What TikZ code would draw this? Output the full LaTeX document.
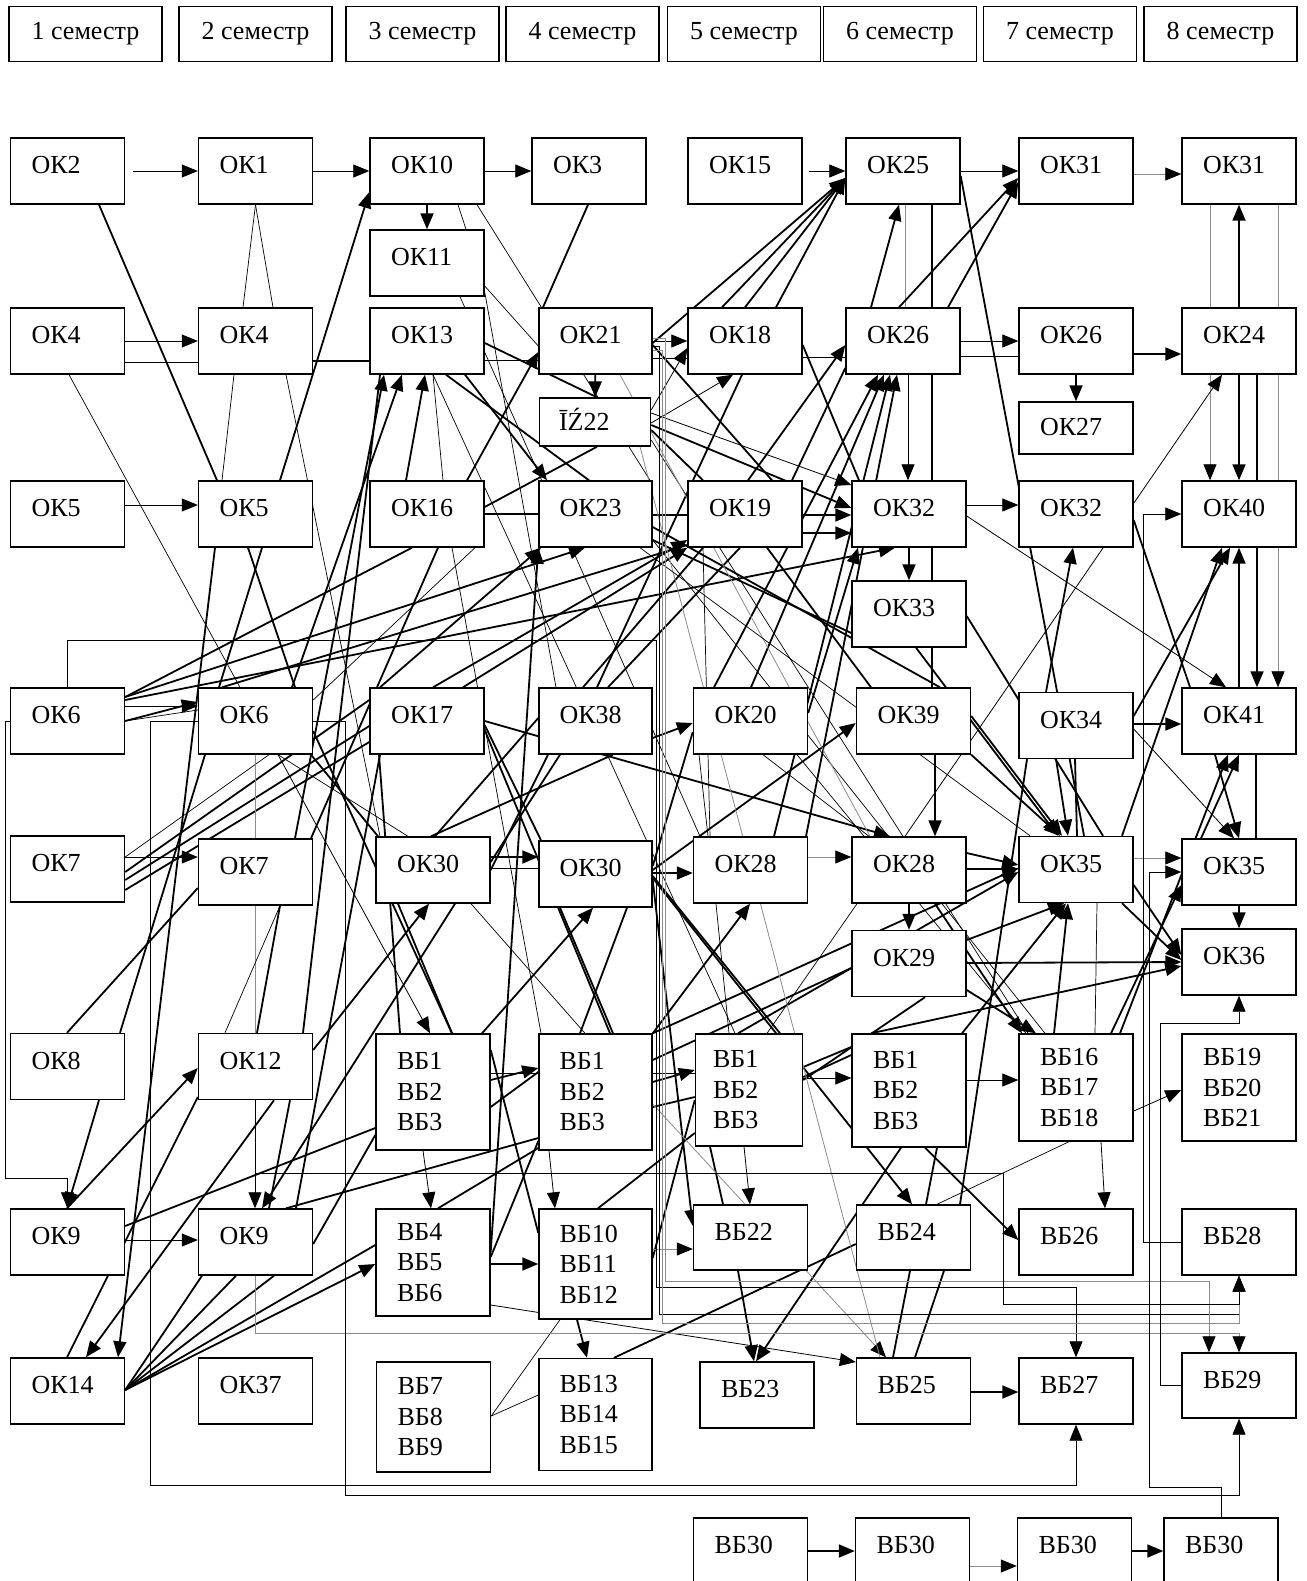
\documentclass[tikz,border=0pt]{standalone}
\usepackage{fontspec}
\setmainfont{Liberation Serif}
\usetikzlibrary{arrows.meta}
\pgfdeclarelayer{bg}
\pgfsetlayers{bg,main}

\tikzset{
  box/.style={draw, fill=white, line width=1.4pt, minimum width=114pt, minimum height=66pt,
    inner sep=0pt, text width=72pt, align=left, text height=17pt, text depth=12pt},
  bbox/.style={draw, fill=white, line width=1.4pt, minimum width=114pt,
    inner sep=0pt, text width=72pt, align=left},
  sem/.style={draw, fill=white, line width=1.4pt, minimum width=153pt, minimum height=55pt, inner sep=0pt},
  tA/.style={line width=1.8pt, -{Triangle[length=16pt,width=13pt]}},
  ta/.style={line width=0.8pt, -{Triangle[length=16pt,width=13pt]}},
  tL/.style={line width=1.8pt},
  tl/.style={line width=0.7pt},
  gl/.style={line width=0.8pt, draw=black!45},
  ga/.style={gl, -{Triangle[length=16pt,width=13pt,color=black]}},
}

\begin{document}
\begin{tikzpicture}[x=1pt, y=-1pt, font=\fontsize{26pt}{30.5pt}\selectfont]

\useasboundingbox (0,0) rectangle (1306,1581);

% semesters
\foreach \n/\x in {1/85.5, 2/255.5, 3/422.5, 4/582.5, 5/744, 6/900, 7/1060, 8/1220.5}
  \node[sem] (s\n) at (\x,34) {\n\ семестр};

% row 1
\node[box] (ok2)  at (67.5,171)  {ОК2};
\node[box] (ok1)  at (255.5,171) {ОК1};
\node[box] (ok10) at (427,171)   {ОК10};
\node[box] (ok3)  at (589,171)   {ОК3};
\node[box] (ok15) at (745,171)   {ОК15};
\node[box] (ok25) at (903,171)   {ОК25};
\node[box] (ok31a) at (1076,171) {ОК31};
\node[box] (ok31b) at (1239,171) {ОК31};
\node[box] (ok11) at (427,263)   {ОК11};

% row 2
\node[box] (ok4a) at (67.5,341)  {ОК4};
\node[box] (ok4b) at (255.5,341) {ОК4};
\node[box] (ok13) at (427,341)   {ОК13};
\node[box, minimum width=113pt] (ok21) at (595.5,341) {ОК21};
\node[box] (ok18) at (745,341)   {ОК18};
\node[box] (ok26a) at (903,341)  {ОК26};
\node[box] (ok26b) at (1076,341) {ОК26};
\node[box] (ok24) at (1239,341)  {ОК24};
\node[box, minimum width=111pt, minimum height=48pt, text depth=0pt] (iz22) at (595,422) {ĪŹ22};
\node[box, minimum height=52pt, text depth=2pt] (ok27) at (1076,428) {ОК27};

% row 3
\node[box] (ok5a) at (67.5,514)  {ОК5};
\node[box] (ok5b) at (255.5,514) {ОК5};
\node[box] (ok16) at (427,514)   {ОК16};
\node[box, minimum width=113pt] (ok23) at (595.5,514) {ОК23};
\node[box] (ok19) at (745,514)   {ОК19};
\node[box] (ok32a) at (909,514)  {ОК32};
\node[box] (ok32b) at (1076,514) {ОК32};
\node[box] (ok40) at (1239,514)  {ОК40};
\node[box] (ok33) at (909,614)   {ОК33};

% row 4
\node[box] (ok6a) at (67.5,721)  {ОК6};
\node[box] (ok6b) at (255.5,721) {ОК6};
\node[box] (ok17) at (427,721)   {ОК17};
\node[box, minimum width=113pt] (ok38) at (595.5,721) {ОК38};
\node[box] (ok20) at (750.5,721) {ОК20};
\node[box] (ok39) at (913.5,721) {ОК39};
\node[box] (ok34) at (1076,725.5) {ОК34};
\node[box] (ok41) at (1239,721)  {ОК41};

% row 5
\node[box] (ok7a) at (67.5,869)  {ОК7};
\node[box] (ok7b) at (255.5,872) {ОК7};
\node[box] (ok30a) at (433,870)  {ОК30};
\node[box, minimum width=113pt] (ok30b) at (595.5,874) {ОК30};
\node[box] (ok28a) at (750.5,870) {ОК28};
\node[box] (ok28b) at (909,870)  {ОК28};
\node[box] (ok35a) at (1076,869.5) {ОК35};
\node[box] (ok35b) at (1239,872) {ОК35};
\node[box] (ok29) at (909,963.5) {ОК29};
\node[box] (ok36) at (1239,962)  {ОК36};

% row 6
\node[box] (ok8)  at (67.5,1066.5)  {ОК8};
\node[box] (ok12) at (255.5,1066.5) {ОК12};
\node[bbox, minimum height=116pt] (vb1a) at (433,1092)   {ВБ1\\ВБ2\\ВБ3};
\node[bbox, minimum height=116pt, minimum width=113pt] (vb1b) at (595.5,1092) {ВБ1\\ВБ2\\ВБ3};
\node[bbox, minimum height=112pt, minimum width=107pt] (vb1c) at (749,1090) {ВБ1\\ВБ2\\ВБ3};
\node[bbox, minimum height=113pt] (vb1d) at (909,1090.5) {ВБ1\\ВБ2\\ВБ3};
\node[bbox, minimum height=107pt] (vb16) at (1076,1087.5) {ВБ16\\ВБ17\\ВБ18};
\node[bbox, minimum height=107pt] (vb19) at (1239,1087.5) {ВБ19\\ВБ20\\ВБ21};

% row 7
\node[box] (ok9a) at (67.5,1242)  {ОК9};
\node[box] (ok9b) at (255.5,1242) {ОК9};
\node[bbox, minimum height=107pt] (vb4) at (433,1262.5) {ВБ4\\ВБ5\\ВБ6};
\node[bbox, minimum height=110pt, minimum width=113pt] (vb10) at (595.5,1264) {ВБ10\\ВБ11\\ВБ12};
\node[box, minimum height=65pt] (vb22) at (750.5,1237.5) {ВБ22};
\node[box, minimum height=65pt] (vb24) at (913.5,1237.5) {ВБ24};
\node[box] (vb26) at (1076,1242) {ВБ26};
\node[box] (vb28) at (1239,1242) {ВБ28};

% row 8
\node[box] (ok14) at (67.5,1391)  {ОК14};
\node[box] (ok37) at (255.5,1391) {ОК37};
\node[bbox, minimum height=110pt] (vb7) at (433.5,1417) {ВБ7\\ВБ8\\ВБ9};
\node[bbox, minimum height=112pt, minimum width=113pt] (vb13) at (595.5,1414.5) {ВБ13\\ВБ14\\ВБ15};
\node[box] (vb23) at (757,1395)   {ВБ23};
\node[box] (vb25) at (913.5,1391) {ВБ25};
\node[box] (vb27) at (1076,1391)  {ВБ27};
\node[box, minimum height=65pt] (vb29) at (1239,1385.5) {ВБ29};

% row 9
\node[box] (vb30a) at (750.5,1551) {ВБ30};
\node[box] (vb30b) at (912.5,1551) {ВБ30};
\node[box] (vb30c) at (1074.5,1551) {ВБ30};
\node[box] (vb30d) at (1221,1551)  {ВБ30};

\begin{pgfonlayer}{bg}
\fill[white] (0,0) rectangle (1306,1581);

% --- top rows
\draw[ta, shorten <=8pt] (ok2.east |- 0,171) -- (ok1.west |- 0,171);
\draw[ta] (ok1.east |- 0,171) -- (ok10.west |- 0,171);
\draw[ta] (ok10.east |- 0,171) -- (ok3.west |- 0,171);
\draw[ta, shorten <=6pt] (ok15.east |- 0,171) -- (ok25.west |- 0,171);
\draw[ta] (ok25.east |- 0,171) -- (ok31a.west |- 0,171);
\draw[ga] (ok31a.east |- 0,174) -- (ok31b.west |- 0,174);
\draw[tA] (ok10) -- (ok11);
\draw[tL] (ok2.south -| 99,0) -- (ok5b.north -| 217,0);
\draw[tl] (ok1.south) -- (ok4b.north -| 243,0);
\draw[tl] (ok1.south) -- (ok4b.north -| 273,0);
\draw[tl] (ok10.south -| 458,0) -- (ok11.north -| 466,0);
\draw[tl] (ok10.south -| 477,0) -- (ok23.north -| 650,0);
\draw[tL] (ok3.south -| 588,0) -- (ok21.north -| 543,0);
\draw[tA] (ok16.north -| 467,0) -- (ok21.west |- 0,352);
\draw[tl] (ok11.east |- 0,286) -- (ok21.west |- 0,346);
\draw[tl] (ok11.east |- 0,292) -- (ok38.north -| 556,0);
\draw[tl] (ok11.south -| 460,0) -- (ok28a.north -| 700,0);

% into OK25, OK31
\draw[tA] (ok21.east |- 0,343) -- (ok25.west |- 0,178);
\foreach \x in {722,745,776}
  \draw[tA] (ok18.north -| \x,0) -- (ok25.west |- 0,178);
\draw[tA] (ok26a.north -| 871,0) -- (ok25.south -| 899,0);
\draw[gl] (ok25.south -| 905,0) -- (ok26a.north -| 905,0);
\draw[ta] (ok26a.south -| 908,0) -- (ok32a.north -| 908,0);
\draw[tL] (ok25.south -| 932,0) -- (ok26a.north -| 932,0);
\draw[tL] (ok26a.south -| 932,0) -- (ok32a.north -| 932,0);
\draw[tL] (ok32a.south -| 932,0) -- (ok33.north -| 932,0);
\draw[tL] (ok33.south -| 932,0) -- (ok39.north -| 932,0);
\draw[tL] (ok25.east |- 0,176) -- (ok35a.north -| 1084,0);
\draw[tA] (ok26a.north -| 899,0) -- (ok31a.west |- 0,178);
\draw[tA] (ok26a.north -| 948,0) -- (ok31a.west |- 0,182);

% --- column 8
\draw[tA] (ok24) -- (ok31b);
\draw[gl] (ok31b.south -| 1210,0) -- (ok24.north -| 1210,0);
\draw[gl] (ok31b.south -| 1278,0) -- (ok24.north -| 1278,0);
\draw[ga] (ok24.south -| 1210,0) -- (ok40.north -| 1210,0);
\draw[tA] (ok24) -- (ok40);
\draw[tL] (ok24.south -| 1257,0) -- (ok40.north -| 1257,0);
\draw[gl] (ok24.south -| 1278,0) -- (ok40.north -| 1278,0);
\draw[tA] (ok40.south -| 1257,0) -- (ok41.north -| 1257,0);
\draw[ga] (ok40.south -| 1278,0) -- (ok41.north -| 1278,0);
\draw[tA] (ok41) -- (ok40);
\draw[tA] (ok35b.north -| 1201,0) -- (ok41.south -| 1239,0);
\draw[tA] (ok41.south -| 1215,0) -- (ok35b.north -| 1239,0);
\draw[tL] (ok41.south -| 1256,0) -- (ok35b.north -| 1256,0);
\draw[tA] (ok35b) -- (ok36);
\draw[tA] (ok35a.north -| 1122,0) -- (ok40.south -| 1222,0);
\draw[tA] (ok34.east |- 0,716) -- (ok40.south -| 1230,0);
\draw[tA] (ok34.east |- 0,724) -- (ok41.west |- 0,724);
\draw[ta] (ok34.east |- 0,729) -- (ok35b.north -| 1234,0);
\draw[ta] (ok32a.east |- 0,516) -- (ok41.north -| 1226,0);
\draw[tL] (ok32b.east |- 0,520) -- (ok41.north -| 1190,0);
\draw[tA] (vb16.north -| 1111,0) -- (ok35b.west |- 0,885);
\draw[tA] (vb16.north -| 1120,0) -- (ok41.south -| 1228,0);

% --- row 2 links
\draw[ta] (ok4a.east |- 0,341) -- (ok4b.west |- 0,341);
\draw[tl] (ok4a.east |- 0,362) -- (ok4b.west |- 0,362);
\draw[tL] (ok4b.east |- 0,361) -- (ok13.west |- 0,361);
\draw[tl] (ok13.east |- 0,360) -- (ok21.west |- 0,360);
\draw[tl] (ok21.east |- 0,358) -- (ok18.west |- 0,358);
\draw[tl] (ok18.east |- 0,357) -- (ok26a.west |- 0,357);
\draw[tl] (ok26a.east |- 0,356) -- (ok26b.west |- 0,356);
\draw[ta] (ok26a.east |- 0,341) -- (ok26b.west |- 0,341);
\draw[tA] (ok26b.east |- 0,354) -- (ok24.west |- 0,354);
\draw[tA] (ok26b) -- (ok27);
\draw[tA] (ok21) -- (iz22);
\draw[ta] (ok21.east |- 0,341) -- (ok18.west |- 0,341);
\draw[tL] (ok13.east |- 0,343) -- (iz22.north -| 597,0);
\draw[tL] (ok13.south -| 446,0) -- (ok23.north -| 589,0);
\draw[tA] (ok13.south -| 465,0) -- (ok23.north -| 547,0);
\draw[tA] (ok16.north -| 406,0) -- (ok13.south -| 425,0);
\draw[tl] (ok16.north -| 443,0) -- (ok13.south -| 433,0);
\draw[tA] (ok7b.north -| 295,0) -- (ok13.south -| 384,0);
\draw[tA] (ok6b.north -| 292,0) -- (ok13.south -| 402,0);
\draw[tl] (ok4a.south -| 69,0) -- (ok6b.north -| 240,0);
\draw[tl] (ok4b.south -| 234,0) -- (ok5b.north -| 222,0);
\draw[tl] (ok4b.south -| 286,0) -- (ok30a.north -| 380,0);
\draw[ta] (ok5a.east |- 0,505) -- (ok5b.west |- 0,505);
\draw[tA] (ok5b.north -| 280,0) -- (ok10.west |- 0,192);

% --- row 3 links
\draw[tL] (ok16.east |- 0,514) -- (ok23.west |- 0,514);
\draw[tL] (ok23.east |- 0,515) -- (ok19.west |- 0,515);
\draw[tA] (ok19.east |- 0,515) -- (ok32a.west |- 0,515);
\draw[tA] (ok19.east |- 0,533) -- (ok32a.west |- 0,533);
\draw[ta] (ok32a.east |- 0,505) -- (ok32b.west |- 0,505);
\draw[tA] (ok32a) -- (ok33);
\draw[tA] (ok34.north -| 1046,0) -- (ok32b.south -| 1073,0);
\draw[ta] (ok28b.north -| 905,0) -- (ok24.south -| 1222,0);
\draw[tL] (iz22.south -| 597,0) -- (ok16.east |- 0,507);
\draw[tL] (ok23.east |- 0,527) -- (ok39.north -| 940,0);

% --- OK18, OK19, IZ22
\draw[ta] (iz22.east |- 0,410) -- (ok18.west |- 0,348);
\draw[ta] (iz22.east |- 0,423) -- (ok18.south -| 733,0);
\draw[ta] (iz22.east |- 0,413) -- (ok32a.west |- 0,485);
\draw[tA] (iz22.east |- 0,425) -- (ok32a.west |- 0,508);
\draw[tL] (iz22.east |- 0,430) -- (ok19.north -| 703,0);
\draw[tL] (ok18.south -| 742,0) -- (ok38.north -| 597,0);
\draw[tL] (ok18.east |- 0,345) -- (ok32a.north -| 859,0);
\draw[tL] (ok21.east |- 0,345) -- (ok19.north -| 772,0);
\draw[tA] (ok19.north -| 748,0) -- (ok26a.west |- 0,345);
\draw[tL] (ok19.north -| 792,0) -- (ok26a.west |- 0,368);
\draw[tL] (ok19.south -| 767,0) -- (ok39.north -| 871,0);
\draw[tL] (ok38.north -| 583,0) -- (ok19.south -| 703,0);
\draw[tL] (ok38.north -| 608,0) -- (ok19.south -| 740,0);
\draw[tL] (ok33.west |- 0,633) -- (ok23.east |- 0,540);
\draw[tl] (ok19.south -| 703,0) -- (ok28a.north -| 710,0);

% --- OK20
\draw[tA] (ok38.east |- 0,738) -- (ok20.west |- 0,723);
\draw[tA] (ok20.north -| 714,0) -- (ok26a.south -| 878,0);
\draw[tA] (ok20.north -| 751,0) -- (ok26a.south -| 884,0);
\draw[tA] (ok20.east |- 0,713) -- (ok32a.south -| 858,0);
\draw[tl] (ok20.south -| 699,0) -- (ok28a.north -| 708,0);
\draw[tl] (ok20.south -| 763,0) -- (ok28b.north -| 869,0);

% --- OK28, OK29
\draw[ga] (ok28a.east |- 0,857) -- (ok28b.west |- 0,857);
\draw[tA] (ok28a.north -| 774,0) -- (ok26a.south -| 890,0);
\draw[tA] (ok28a.north -| 806,0) -- (ok26a.south -| 897,0);
\draw[tl] (ok28a.south -| 716,0) -- (vb1c.north -| 729,0);
\draw[tA] (vb1b.north east) -- (ok28a.south -| 750,0);
\draw[tA] (ok28b.east |- 0,853) -- (ok35a.west |- 0,865);
\draw[tA] (ok28b.east |- 0,869) -- (ok35a.west |- 0,869);
\draw[tA] (ok39.south -| 935,0) -- (ok28b.north -| 935,0);
\draw[tA] (ok28b) -- (ok29);
\draw[tl] (ok28b.south -| 857,0) -- (vb1c.north -| 767,0);
\draw[tA] (ok17.east |- 0,721) -- (ok28b.north -| 890,0);
\draw[tA] (ok29.east |- 0,963) -- (ok36.west |- 0,962);
\draw[tL] (ok29.west |- 0,968) -- (vb1b.east |- 0,1060);
\draw[tL] (ok29.south -| 925,0) -- (vb1c.east |- 0,1080);

% --- OK35
\draw[ga] (ok35a.east |- 0,858) -- (ok35b.west |- 0,858);
\draw[tA] (ok35a.east |- 0,885) -- (ok36.west |- 0,955);
\draw[tA] (ok35a.south -| 1122,0) -- (ok36.west |- 0,960);
\draw[tL] (ok33.east |- 0,616) -- (ok35a.north -| 1103,0);
\draw[tA] (ok39.east |- 0,716) -- (ok35a.north -| 1062,0);
\draw[tA] (ok39.south east) -- (ok35a.north -| 1060,0);
\draw[tA] (ok34.south -| 1056,0) -- (ok35a.north -| 1068,0);
\draw[tL] (ok34.south -| 1075,0) -- (ok35a.north -| 1077,0);
\draw[tA] (ok33.south -| 916,0) -- (ok35a.north -| 1058,0);
\draw[tA] (vb1b.north east) -- (ok35a.west |- 0,868);
\draw[tA] (vb1c.north -| 738,0) -- (ok35a.west |- 0,872);
\draw[tA] (vb16.north -| 1054,0) -- (ok35a.south -| 1068,0);
\draw[tA] (vb1d.north -| 962,0) -- (ok35a.south -| 1066,0);
\draw[tA] (ok29.east |- 0,940) -- (ok35a.south -| 1064,0);
\draw[tl] (ok35a.south -| 1097,0) -- (vb16.north -| 1095,0);
\draw[tL] (ok34.south -| 1027,0) -- (vb24.north -| 960,0);
\draw[tA] (vb1d.north -| 871,0) -- (ok36.west |- 0,966);
\draw[tA] (ok28b.south -| 935,0) -- (vb16.north -| 1022,0);
\draw[tA] (ok29.east |- 0,990) -- (vb16.north -| 1036,0);

% --- OK30
\draw[tA] (ok30a.east |- 0,857) -- (ok30b.west |- 0,857);
\draw[tl] (ok30a.east |- 0,868) -- (ok30b.west |- 0,868);
\draw[tL] (ok30a.east |- 0,862) -- (ok38.south -| 560,0);
\draw[tL] (ok30a.east |- 0,870) -- (ok38.south -| 548,0);
\draw[tL] (ok38.south -| 613,0) -- (ok30a.north -| 431,0);
\draw[tL] (ok38.west |- 0,718) -- (ok30a.north -| 435,0);
\draw[tL] (ok30a.south -| 398,0) -- (vb1a.north -| 452,0);
\draw[tl] (ok30a.south -| 471,0) -- (vb1b.north -| 585,0);
\draw[tl] (ok30a.north -| 408,0) -- (ok6b.south -| 278,0);
\draw[tL] (ok30b.south -| 560,0) -- (vb1b.north -| 613,0);
\draw[tL] (ok30b.south -| 627,0) -- (vb1b.north -| 580,0);
\draw[tA] (vb1a.north -| 482,0) -- (ok30b.south -| 593,0);
\draw[tA] (ok30b.east |- 0,873) -- (ok28a.west |- 0,873);
\draw[tA] (ok30b.east |- 0,870) -- (ok39.west |- 0,723);
\draw[tL] (ok30b.east |- 0,866) -- (ok20.west |- 0,732);
\draw[tL] (ok30b.east |- 0,876) -- (vb1c.north -| 780,0);
\draw[tA] (ok30b.east |- 0,878) -- (vb24.north -| 912,0);
\draw[tA] (ok30b.east |- 0,880) -- (vb22.west |- 0,1226);
\draw[tA] (ok12.east |- 0,1050) -- (ok30a.south -| 429,0);

% --- OK17
\draw[tL] (ok7a.east |- 0,872) -- (ok17.west |- 0,700);
\draw[tL] (ok7a.east |- 0,880) -- (ok17.west |- 0,726);
\draw[tL] (ok7a.east |- 0,890) -- (ok17.west |- 0,742);
\draw[ta] (ok7a.east |- 0,857) -- (ok7b.west |- 0,857);
\draw[tA] (ok17.north -| 380,0) -- (ok23.south -| 541,0);
\draw[tA] (ok17.north -| 433,0) -- (ok19.west |- 0,540);
\draw[tA] (ok17.north -| 463,0) -- (ok19.south west);
\draw[tL] (ok17.east |- 0,725) -- (ok30b.north -| 541,0);
\draw[tL] (ok17.east |- 0,730) -- (vb1b.north -| 610,0);
\draw[tL] (ok17.south -| 379,0) -- (vb1a.north -| 400,0);

% --- OK6
\draw[ta] (ok6a.east |- 0,706) -- (ok6b.west |- 0,706);
\draw[tA] (ok6a.east |- 0,721) -- (ok6b.west |- 0,702);
\draw[tl] (ok6a.east |- 0,721) -- (ok6b.west |- 0,710);
\draw[tL] (ok6a.east |- 0,697) -- (ok16.south -| 412,0);
\draw[tA] (ok6a.east |- 0,697) -- (ok23.south -| 585,0);
\draw[tA] (ok6a.east |- 0,700) -- (ok32a.south -| 895,0);
\draw[tL] (ok5b.south -| 262,0) -- (ok6b.north -| 219,0);
\draw[tL] (ok5b.south -| 248,0) -- (ok6b.north -| 295,0);
\draw[tA] (ok5b.south -| 215,0) -- (ok14.north -| 118,0);
\draw[tL] (ok6b.north -| 222,0) -- (ok19.west |- 0,545);
\draw[tl] (ok16.south -| 475,0) -- (ok6b.east |- 0,700);
\draw[tL] (ok6b.east |- 0,731) -- (vb1a.north -| 452,0);
\draw[tl] (ok6b.south -| 269,0) -- (ok7a.east |- 0,857);
\draw[ta] (ok6b.south -| 278,0) -- (vb1a.north -| 430,0);
\draw[gl] (ok6b.south -| 255,0) -- (ok7b.north -| 255,0);
\draw[gl] (ok7b.south -| 255,0) -- (ok12.north -| 255,0);
\draw[tL] (ok6b.south -| 311,0) -- (ok30a.north -| 378,0);
\draw[tl] (ok16.south -| 452,0) -- (vb1b.north -| 541,0);
\draw[tL] (ok13.south -| 380,0) -- (ok12.north -| 303,0);

% --- OK7, OK8, OK12, OK9, OK14
\draw[tL] (ok8.north -| 67,0) -- (ok7b.west |- 0,888);
\draw[tL] (ok8.north -| 120,0) -- (ok6b.south -| 205,0);
\draw[tl] (ok7b.south -| 280,0) -- (ok12.north -| 225,0);
\draw[tL] (ok7b.south -| 280,0) -- (ok12.north -| 257,0);
\draw[tL] (ok7b.north -| 311,0) -- (ok16.south -| 438,0);
\draw[tA] (ok8.south -| 99,0) -- (ok9a.north -| 67,0);
\draw[tA] (ok9a.north -| 67,0) -- (ok12.west |- 0,1068);
\draw[ta] (ok9a.east |- 0,1240) -- (ok9b.west |- 0,1240);
\draw[tL] (ok9a.east |- 0,1226) -- (vb1a.west |- 0,1128);
\draw[tL] (ok14.north -| 67,0) -- (ok12.west |- 0,1097);
\draw[tA] (ok12.south -| 274,0) -- (ok14.north -| 86,0);
\draw[tL] (ok12.south -| 290,0) -- (ok9b.north -| 269,0);
\draw[ta] (ok12.south -| 255,0) -- (ok9b.north -| 255,0);
\draw[tA] (ok30a.south -| 455,0) -- (ok9b.north -| 262,0);
\foreach \x in {202,236,274}
  \draw[tL] (ok14.east |- 0,1390) -- (ok9b.south -| \x,0);
\draw[tL] (ok14.east |- 0,1390) -- (vb4.west |- 0,1245);
\draw[tA] (ok14.east |- 0,1390) -- (vb4.west |- 0,1264);
\draw[tL] (ok9b.east |- 0,1244) -- (vb1a.west |- 0,1135);
\draw[tL] (ok9b.north -| 286,0) -- (vb1b.west |- 0,1138);
\draw[tL] (ok9b.north -| 296,0) -- (ok17.south -| 380,0);

% --- VB rows
\draw[tA] (vb1a.east |- 0,1080) -- (vb1b.west |- 0,1068);
\draw[tL] (vb1a.east |- 0,1107) -- (vb1b.west |- 0,1072);
\draw[tl] (vb1a.east |- 0,1073) -- (vb1b.west |- 0,1073);
\draw[tA] (vb1b.east |- 0,1082) -- (vb1c.west |- 0,1070);
\draw[tl] (vb1b.east |- 0,1073) -- (vb1c.west |- 0,1073);
\draw[tL] (vb1b.east |- 0,1107) -- (vb1c.west |- 0,1097);
\draw[ta] (vb1c.east |- 0,1078) -- (vb1d.west |- 0,1078);
\draw[tL] (vb1c.east |- 0,1067) -- (vb1d.west |- 0,1047);
\draw[tL] (vb1c.east |- 0,1077) -- (vb1d.west |- 0,1055);
\draw[ta] (vb1d.east |- 0,1080) -- (vb16.west |- 0,1080);
\draw[ta] (vb1a.south -| 423,0) -- (vb4.north -| 431,0);
\draw[ta] (vb1b.south -| 549,0) -- (vb10.north -| 555,0);
\draw[tA] (vb4.east |- 0,1264) -- (vb10.west |- 0,1264);
\draw[tA] (vb10.south -| 577,0) -- (vb13.north -| 587,0);
\draw[tl] (vb10.south -| 560,0) -- (vb7.east |- 0,1416);
\draw[tl] (vb13.west |- 0,1395) -- (vb7.east |- 0,1416);
\draw[tL] (vb13.north -| 614,0) -- (vb24.west |- 0,1244);
\draw[tL] (vb10.north -| 598,0) -- (vb1c.west |- 0,1133);
\draw[tL] (vb10.east |- 0,1258) -- (vb1c.west |- 0,1100);
\draw[tL] (vb1a.east |- 0,1050) -- (vb10.west |- 0,1233);
\draw[tL] (vb4.north -| 438,0) -- (vb1b.west |- 0,1148);
\draw[tL] (vb4.east |- 0,1257) -- (vb1b.west |- 0,1141);
\draw[tA] (vb4.east |- 0,1252) -- (ok23.south west);
\draw[ta] (vb4.east |- 0,1305) -- (vb25.west |- 0,1362);
\draw[tL] (vb1c.south -| 710,0) -- (vb22.north -| 723,0);
\draw[ta] (vb1c.south -| 744,0) -- (vb22.north -| 750,0);
\draw[ga] (vb10.east |- 0,1249) -- (vb22.west |- 0,1249);
\draw[tA] (vb22.south -| 738,0) -- (vb23.north -| 754,0);
\draw[tA] (vb1d.south -| 901,0) -- (vb23.north -| 756,0);
\draw[tL] (vb1d.south -| 937,0) -- (vb24.north -| 926,0);
\draw[tA] (vb1d.south -| 925,0) -- (vb26.west |- 0,1240);
\draw[tl] (vb24.north -| 937,0) -- (vb16.south -| 1069,0);
\draw[tL] (vb24.south -| 910,0) -- (vb25.north -| 893,0);
\draw[tL] (vb24.south -| 944,0) -- (vb25.north -| 915,0);
\draw[tA] (vb25.east |- 0,1392) -- (vb27.west |- 0,1392);
\draw[ta] (vb16.south -| 1101,0) -- (vb26.north -| 1105,0);
\draw[ta] (vb16.east |- 0,1111) -- (vb19.west |- 0,1090);
\draw[ga] (vb1b.east |- 0,1104) -- (vb25.north -| 886,0);

% thin diagonals
\draw[tl] (ok13.south -| 433,0) -- (vb1c.north -| 735,0);
\draw[tl] (iz22.east |- 0,440) -- (vb16.north -| 1028,0);
\draw[tl] (ok23.east |- 0,540) -- (vb16.north -| 1045,0);
\draw[gl] (iz22.south -| 640,0) -- (vb25.north -| 880,0);
\draw[gl] (ok21.south -| 620,0) -- (ok28b.north -| 870,0);
\draw[tl] (ok23.south -| 640,0) -- (ok35a.north -| 1030,0);
\draw[tl] (ok20.south -| 797,0) -- (vb16.north -| 1026,0);

% --- routed lines
\draw[ta] (ok6a.north) |- (656,640) -- (656,1287) -| (vb27.north);
\draw[ta] (ok21.east |- 0,346) -- (659,346) -- (659,1314) -| (vb28.south);
\draw[gl] (ok21.east |- 0,350) -- (662,350) -- (662,1323) -| (vb28.south);
\draw[ga] (ok21.east |- 0,338) -- (665,338) -- (665,1281) -| (vb29.north -| 1209,0);
\draw[ta] (ok12.south -| 255,0) -- (255,1173) -- (1003,1173) -- (1003,1304) -| (vb28.south);
\draw[ga] (ok9b.south -| 255,0) -- (255,1333) -| (vb29.north);
\draw[ta] (ok6b.west |- 0,721) -- (150,721) -- (150,1485) -| (vb27.south);
\draw[ta] (ok6b.east |- 0,721) -- (345,721) -- (345,1495) -| (vb29.south);
\draw[ta] (ok6a.west |- 0,721) -- (5,721) -- (5,1178) -| (ok9a.north);
\draw[ta] (vb28.west) -| (1143,514) -- (ok40.west |- 0,514);
\draw[ta] (vb30d.north) |- (1149,1487) -- (1149,872) -- (ok35b.west |- 0,872);
\draw[ta] (vb29.west) -| (1160,1023) -| (ok36.south);

% --- VB30 chain
\draw[tA] (vb30a.east |- 0,1551) -- (vb30b.west |- 0,1551);
\draw[ga] (vb30b.east |- 0,1566) -- (vb30c.west |- 0,1566);
\draw[tA] (vb30c.east |- 0,1551) -- (vb30d.west |- 0,1551);
\end{pgfonlayer}

\end{tikzpicture}
\end{document}
